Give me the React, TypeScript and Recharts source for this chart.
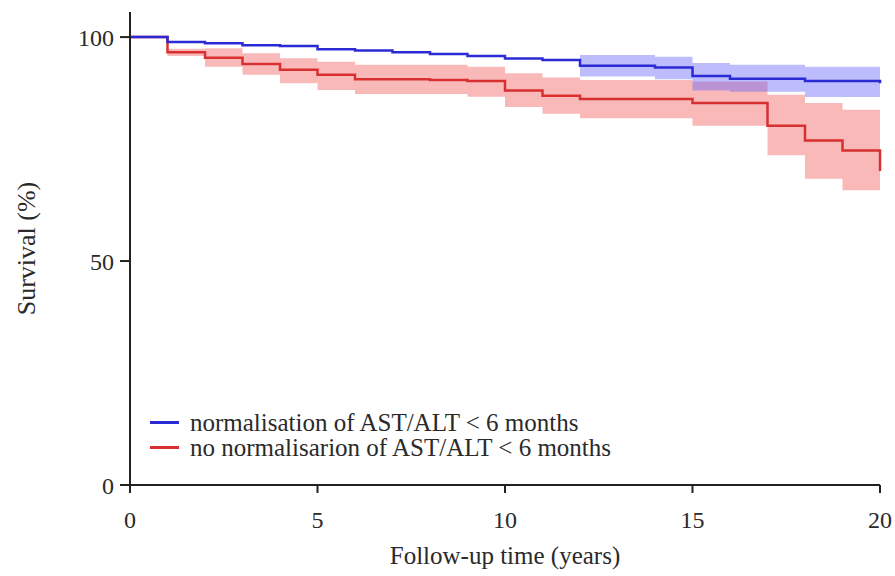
import React from "react";
import {
  Area,
  ComposedChart,
  Legend,
  Line,
  XAxis,
  YAxis,
} from "recharts";

// Kaplan-Meier steps, one value per year (value after the step at that year)
const years = [0, 1, 2, 3, 4, 5, 6, 7, 8, 9, 10, 11, 12, 13, 14, 15, 16, 17, 18, 19, 20];
const blueSurv = [100, 98.9, 98.6, 98.2, 98.0, 97.3, 97.0, 96.6, 96.2, 95.8, 95.2, 94.9, 93.6, 93.6, 93.2, 91.3, 90.7, 90.7, 90.2, 90.2, 89.7];
const blueLo = [null, null, null, null, null, null, null, null, null, null, null, null, 91.2, 91.2, 90.6, 88.1, 87.8, 87.8, 86.6, 86.6, 86.6];
const blueHi = [null, null, null, null, null, null, null, null, null, null, null, null, 96.0, 96.0, 95.6, 94.2, 93.8, 93.8, 93.4, 93.4, 93.4];
const redSurv = [100, 96.6, 95.4, 94.0, 92.7, 91.6, 90.6, 90.6, 90.4, 90.2, 88.1, 86.9, 86.2, 86.2, 86.2, 85.3, 85.3, 80.2, 76.9, 74.7, 70.1];
const redLo = [100, 95.8, 93.4, 91.6, 89.7, 88.2, 87.3, 87.3, 87.3, 86.7, 84.4, 82.9, 81.9, 81.9, 81.9, 80.2, 80.2, 73.6, 68.4, 65.8, 65.8];
const redHi = [100, 97.4, 97.5, 96.4, 95.3, 94.5, 93.8, 93.8, 93.8, 93.4, 91.9, 91.0, 90.4, 90.4, 90.4, 90.1, 90.1, 87.1, 85.3, 83.8, 83.8];
const xTicks = [0, 5, 10, 15, 20];
const yTicks = [0, 50, 100];
const seriesNames = [
  "normalisation of AST/ALT < 6 months",
  "no normalisarion of AST/ALT < 6 months",
];

const BLUE = "#2b2bd6";
const RED = "#d83030";
const AXIS = "#222";
const TEXT = "#2a2a2a";
const FONT = "Liberation Serif, Times New Roman, Times, DejaVu Serif, serif";

const data = years.map((t, i) => ({
  t,
  blue: blueSurv[i],
  red: redSurv[i],
  blueCI: blueLo[i] == null ? null : [blueLo[i], blueHi[i]],
  redCI: [redLo[i], redHi[i]],
}));

function KmLegend() {
  const colors = [BLUE, RED];
  return (
    <div style={{ fontFamily: FONT, fontSize: 25, color: TEXT, lineHeight: "25px" }}>
      {seriesNames.map((n, i) => (
        <div key={n} style={{ display: "flex", alignItems: "center", whiteSpace: "nowrap" }}>
          <span
            style={{
              display: "inline-block",
              width: 29,
              height: 3,
              background: colors[i],
              marginRight: 11,
            }}
          />
          {n}
        </div>
      ))}
    </div>
  );
}

export default function App() {
  return (
    <div style={{ position: "absolute", left: 0, top: 0, width: 895, height: 576, background: "#fff" }}>
      <ComposedChart
        width={895}
        height={576}
        data={data}
        margin={{ top: 12, right: 15, bottom: 61, left: 50 }}
      >
        <XAxis
          dataKey="t"
          type="number"
          domain={[0, 20]}
          ticks={xTicks}
          stroke={AXIS}
          strokeWidth={2}
          tickSize={8}
          tick={{ fill: TEXT, fontSize: 24, fontFamily: FONT }}
          tickMargin={18}
          label={{
            value: "Follow-up time (years)",
            position: "bottom",
            offset: 31,
            style: { fill: TEXT, fontSize: 25, fontFamily: FONT },
          }}
        />
        <YAxis
          type="number"
          domain={[0, 105.6]}
          ticks={yTicks}
          width={80}
          stroke={AXIS}
          strokeWidth={2}
          tickSize={10}
          tick={{ fill: TEXT, fontSize: 24, fontFamily: FONT }}
          tickMargin={6}
          label={{
            value: "Survival (%)",
            angle: -90,
            position: "insideLeft",
            offset: -24,
            style: { fill: TEXT, fontSize: 26, fontFamily: FONT, textAnchor: "middle" },
          }}
        />
        <Legend
          layout="horizontal"
          verticalAlign="middle"
          align="center"
          wrapperStyle={{ left: 150, top: 410, width: 560 }}
          content={() => <KmLegend />}
        />
        <Area
          type="stepAfter"
          dataKey="redCI"
          stroke="none"
          fill="rgb(240, 80, 80)"
          fillOpacity={0.4}
          isAnimationActive={false}
          legendType="none"
        />
        <Area
          type="stepAfter"
          dataKey="blueCI"
          stroke="none"
          fill="rgb(90, 90, 250)"
          fillOpacity={0.4}
          isAnimationActive={false}
          legendType="none"
        />
        <Line
          type="stepAfter"
          dataKey="red"
          stroke={RED}
          strokeWidth={2.5}
          dot={false}
          isAnimationActive={false}
        />
        <Line
          type="stepAfter"
          dataKey="blue"
          stroke={BLUE}
          strokeWidth={2.5}
          dot={false}
          isAnimationActive={false}
        />
      </ComposedChart>
    </div>
  );
}
